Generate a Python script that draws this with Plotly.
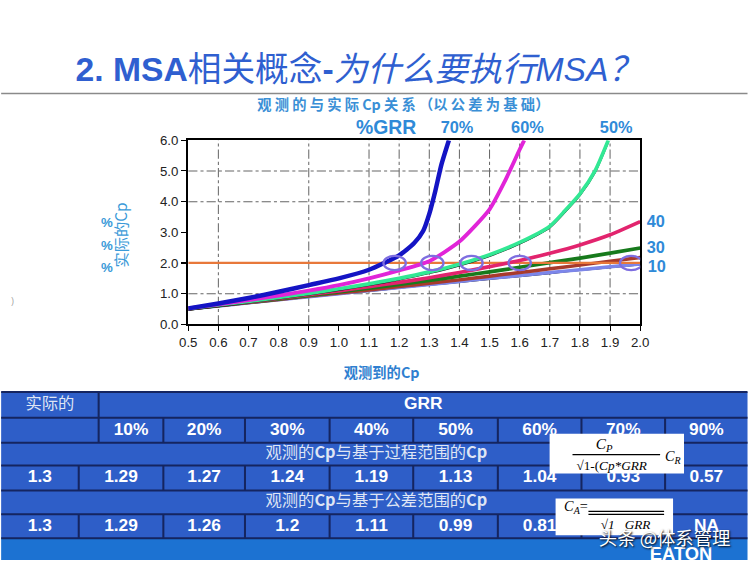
import plotly.graph_objects as go

# ---------------- data ----------------
x_std = [0.5, 0.6, 0.7, 0.8, 0.9, 1.0, 1.1, 1.2, 1.3, 1.4, 1.5, 1.6, 1.7, 1.8, 1.9, 2.0]
cp_10 = [0.50, 0.60, 0.70, 0.80, 0.90, 1.00, 1.10, 1.20, 1.30, 1.40, 1.50, 1.59, 1.69, 1.78, 1.88, 1.97]
cp_10_ref = [0.50, 0.59, 0.69, 0.79, 0.89, 0.99, 1.09, 1.19, 1.29, 1.38, 1.48, 1.57, 1.67, 1.77, 1.86, 1.95]
cp_20 = [0.50, 0.61, 0.71, 0.81, 0.92, 1.02, 1.12, 1.23, 1.34, 1.45, 1.57, 1.69, 1.81, 1.93, 2.06, 2.18]
cp_30 = [0.50, 0.61, 0.72, 0.83, 0.94, 1.06, 1.18, 1.30, 1.43, 1.57, 1.71, 1.86, 2.01, 2.16, 2.32, 2.49]
cp_40 = [0.51, 0.62, 0.73, 0.85, 0.97, 1.09, 1.23, 1.37, 1.52, 1.69, 1.88, 2.08, 2.32, 2.59, 2.92, 3.35]
x_50 = [0.5, 0.6, 0.7, 0.8, 0.9, 1.0, 1.1, 1.2, 1.3, 1.4, 1.5, 1.6, 1.7, 1.75, 1.8, 1.85, 1.894]
cp_50 = [0.52, 0.63, 0.75, 0.88, 1.01, 1.16, 1.32, 1.50, 1.71, 1.96, 2.27, 2.67, 3.20, 3.70, 4.25, 5.00, 6.00]
x_60 = [0.5, 0.6, 0.7, 0.8, 0.9, 1.0, 1.1, 1.2, 1.3, 1.4, 1.5, 1.55, 1.6, 1.615]
cp_60 = [0.52, 0.65, 0.79, 0.94, 1.10, 1.28, 1.50, 1.76, 2.06, 2.70, 3.75, 4.65, 5.70, 6.00]
x_70 = [0.5, 0.6, 0.7, 0.8, 0.9, 1.0, 1.1, 1.15, 1.2, 1.25, 1.28, 1.3, 1.32, 1.34, 1.365]
cp_70 = [0.52, 0.68, 0.86, 1.06, 1.28, 1.50, 1.78, 2.00, 2.25, 2.65, 3.05, 3.60, 4.35, 5.20, 6.00]

target_cp = 2.0
circle_x = [1.185, 1.31, 1.44, 1.60, 1.97]
grid_x = [0.6, 0.9, 1.1, 1.2, 1.3, 1.4, 1.5, 1.6, 1.7, 1.8, 1.9]
grid_y = [1.0, 4.0, 5.0]

grr_levels = ["10%", "20%", "30%", "40%", "50%", "60%", "70%", "90%"]
actual_cp = "1.3"
cp_process = ["1.29", "1.27", "1.24", "1.19", "1.13", "1.04", "0.93", "0.57"]
cp_tolerance = ["1.29", "1.26", "1.2", "1.11", "0.99", "0.81", "", "NA"]
head_left = "实际的"
head_right = "GRR"
row_process = "观测的<b>Cp</b>与基于过程范围的<b>Cp</b>"
row_tolerance = "观测的<b>Cp</b>与基于公差范围的<b>Cp</b>"

# ---------------- style ----------------
W, H = 750, 562
LAT = "Arial, Liberation Sans, Noto Sans CJK SC, sans-serif"
CJK = "Noto Sans CJK SC, sans-serif"
SERIF = "Liberation Serif, DejaVu Serif, serif"
TITLE_BLUE = "#2f5fd0"
LIGHT_BLUE = "#2f8ad8"
CELL = "#2e5ec8"
GRID_LINE = "#152560"
BAR = "#1c72d2"

fig = go.Figure()

def curve(x, y, color, width, name):
    fig.add_trace(go.Scatter(x=x, y=y, mode="lines", name=name,
                             line=dict(color=color, width=width, shape="spline", smoothing=0.6),
                             hoverinfo="skip", xaxis="x", yaxis="y"))

curve(x_std, cp_10_ref, "#111111", 2, "10% ref")
curve(x_std, cp_10, "#7c86ea", 3.4, "10%")
curve(x_std, cp_20, "#a83a2c", 3.4, "20%")
curve(x_std, cp_30, "#177a1c", 3.6, "30%")
fig.add_trace(go.Scatter(x=[x_std[0], x_std[-1]], y=[target_cp, target_cp], mode="lines",
                         line=dict(color="#e8783a", width=2.2), hoverinfo="skip"))
curve(x_std, cp_40, "#e2246e", 3.6, "40%")
curve(x_50, [v - 0.04 for v in cp_50], "#111111", 2, "50% ref")
curve(x_50, cp_50, "#32e894", 3.6, "50%")
curve(x_60, cp_60, "#e124d8", 3.8, "60%")
curve(x_70, cp_70, "#1414c4", 4.4, "70%")

shapes = []
for gx in grid_x:
    shapes.append(dict(type="line", xref="x", yref="y", x0=gx, x1=gx, y0=0, y1=6,
                       line=dict(color="#666", width=1, dash="dashdot"), layer="between"))
for gy in grid_y:
    shapes.append(dict(type="line", xref="x", yref="y", x0=0.5, x1=2.0, y0=gy, y1=gy,
                       line=dict(color="#666", width=1, dash="dashdot"), layer="between"))
for cx in circle_x:
    shapes.append(dict(type="circle", xref="x", yref="y", xsizemode="pixel", ysizemode="pixel",
                       xanchor=cx, yanchor=target_cp, x0=-11, x1=11, y0=-7, y1=7,
                       line=dict(color="#7e6ee0", width=2.2), layer="above"))

shapes.append(dict(type="line", xref="x2", yref="y2", x0=0, x1=750, y0=93, y1=93,
                   line=dict(color="#8a8a8a", width=1.5), layer="below"))

# ---------------- table ----------------
row_y = [393, 419, 444, 467, 492, 516, 540]
col_edges = [98, 163, 245, 330, 414, 499, 583, 667, 750]
first_edge_values = 78
shapes.append(dict(type="rect", xref="x2", yref="y2", x0=0, x1=750, y0=row_y[0], y1=row_y[-1],
                   fillcolor=CELL, line=dict(width=0), layer="below"))
shapes.append(dict(type="rect", xref="x2", yref="y2", x0=0, x1=750, y0=row_y[-1], y1=H,
                   fillcolor=BAR, line=dict(width=0), layer="below"))
for ry in row_y:
    shapes.append(dict(type="line", xref="x2", yref="y2", x0=0, x1=750, y0=ry, y1=ry,
                       line=dict(color=GRID_LINE, width=2), layer="below"))
shapes.append(dict(type="line", xref="x2", yref="y2", x0=col_edges[0], x1=col_edges[0], y0=row_y[0], y1=row_y[2],
                   line=dict(color=GRID_LINE, width=2), layer="below"))
for ce in col_edges[1:-1]:
    shapes.append(dict(type="line", xref="x2", yref="y2", x0=ce, x1=ce, y0=row_y[1], y1=row_y[2],
                       line=dict(color=GRID_LINE, width=2), layer="below"))
for r0, r1 in [(row_y[3], row_y[4]), (row_y[5], row_y[6])]:
    for ce in [first_edge_values] + col_edges[1:-1]:
        shapes.append(dict(type="line", xref="x2", yref="y2", x0=ce, x1=ce, y0=r0, y1=r1,
                           line=dict(color=GRID_LINE, width=2), layer="below"))

def mid(a, b):
    return (a + b) / 2

tx, ty, tt = [], [], []
grr_centers = [mid(col_edges[i], col_edges[i + 1]) for i in range(len(col_edges) - 1)]
val_centers = [mid(first_edge_values, col_edges[1])] + grr_centers[1:]
tx.append(mid(col_edges[0], 750)); ty.append(mid(row_y[0], row_y[1])); tt.append("<b>" + head_right + "</b>")
for c, g in zip(grr_centers, grr_levels):
    tx.append(c); ty.append(mid(row_y[1], row_y[2])); tt.append("<b>" + g + "</b>")
tx.append(mid(0, first_edge_values)); ty.append(mid(row_y[3], row_y[4])); tt.append("<b>" + actual_cp + "</b>")
for c, v in zip(val_centers, cp_process):
    tx.append(c); ty.append(mid(row_y[3], row_y[4])); tt.append("<b>" + v + "</b>")
tx.append(mid(0, first_edge_values)); ty.append(mid(row_y[5], row_y[6])); tt.append("<b>" + actual_cp + "</b>")
for c, v in zip(val_centers, cp_tolerance):
    if v:
        tx.append(c); ty.append(mid(row_y[5], row_y[6])); tt.append("<b>" + v + "</b>")

fig.add_trace(go.Scatter(x=tx, y=ty, text=tt, mode="text", xaxis="x2", yaxis="y2",
                         textfont=dict(family=LAT, size=17, color="white"), hoverinfo="skip"))
fig.add_trace(go.Scatter(x=[mid(0, col_edges[0]), 377, 377],
                         y=[mid(row_y[0], row_y[1]), mid(row_y[2], row_y[3]), mid(row_y[4], row_y[5])],
                         text=[head_left, row_process, row_tolerance], mode="text", xaxis="x2", yaxis="y2",
                         textfont=dict(family=CJK, size=16, color="#dfe5f4"), hoverinfo="skip"))

# pasted formula images
shapes.append(dict(type="rect", xref="x2", yref="y2", x0=551, x1=686, y0=435, y1=475,
                   fillcolor="white", line=dict(width=0), layer="above"))
shapes.append(dict(type="rect", xref="x2", yref="y2", x0=557, x1=675, y0=500, y1=537,
                   fillcolor="white", line=dict(width=0), layer="above"))
shapes.append(dict(type="line", xref="x2", yref="y2", x0=574, x1=662, y0=456, y1=456,
                   line=dict(color="black", width=1.3), layer="above"))
shapes.append(dict(type="line", xref="x2", yref="y2", x0=590, x1=666, y0=513, y1=513,
                   line=dict(color="black", width=1.2), layer="above"))
shapes.append(dict(type="line", xref="x2", yref="y2", x0=590, x1=666, y0=516, y1=516,
                   line=dict(color="black", width=1.2), layer="above"))

ann = []
def A(x, y, text, size, color, family=LAT, **kw):
    d = dict(x=x, y=y, xref="x2", yref="y2", text=text, showarrow=False,
             font=dict(size=size, color=color, family=family), xanchor="center", yanchor="middle")
    d.update(kw)
    ann.append(d)

A(360, 68, "<b>2. MSA</b>相关概念<b>-</b><i>为什么要执行MSA？</i>", 33, TITLE_BLUE)
A(404, 104, "<b>观 测 的 与 实 际 Cp 关 系 （以 公 差 为 基 础）</b>", 14, "#3a8fd6", CJK)
A(387, 127, "<b>%GRR</b>", 19, LIGHT_BLUE)
A(458, 127, "<b>70%</b>", 16, LIGHT_BLUE)
A(529, 127, "<b>60%</b>", 16, LIGHT_BLUE)
A(618, 127, "<b>50%</b>", 16, LIGHT_BLUE)
A(646, 221, "<b>40</b>", 16, LIGHT_BLUE, xanchor="left")
A(646, 248, "<b>30</b>", 16, LIGHT_BLUE, xanchor="left")
A(648, 267, "<b>10</b>", 16, LIGHT_BLUE, xanchor="left")
A(120, 235, "实际的Cp", 15, "#3a9ad8", CJK, textangle=-90)
for py in [222, 246, 268]:
    A(107, py, "<b>%</b>", 13, "#3a9ad8")
A(12, 302, ")", 8, "#999")
A(382, 373, "<b>观测到的Cp</b>", 14, "#2f7fd0", CJK)

A(606, 446, "<i>C<sub>P</sub></i>", 15, "black", SERIF)
A(613, 467, "√1-(<i>Cp*GRR</i>", 13, "black", SERIF)
A(675, 459, "<i>C<sub>R</sub></i>", 14, "black", SERIF)
A(577, 509, "<i>C<sub>A</sub></i>=", 14, "black", SERIF)
A(628, 527, "√<i>1   GRR</i>", 13, "black", SERIF)

A(683, 556, "<b>EATON</b>", 18, "white", LAT)
ann.append(dict(x=666, y=538, xref="x2", yref="y2", text="头条 @体系管理", showarrow=False,
                font=dict(size=18, color="white", family=CJK, shadow="1px 1px 2px #000"),
                xanchor="center", yanchor="middle"))

fig.update_layout(
    width=W, height=H, margin=dict(l=0, r=0, t=0, b=0),
    paper_bgcolor="white", plot_bgcolor="rgba(0,0,0,0)", showlegend=False,
    shapes=shapes, annotations=ann,
    xaxis=dict(domain=[188 / W, 642 / W], range=[0.5, 2.0], dtick=0.1, tick0=0.5, tickformat=".1f",
               showgrid=False, zeroline=False, showline=True, mirror=True, linecolor="black", linewidth=2,
               ticks="outside", ticklen=5, tickcolor="black",
               tickfont=dict(family=LAT, size=13, color="#222"), anchor="y", fixedrange=True),
    yaxis=dict(domain=[1 - 325 / H, 1 - 140 / H], range=[0, 6], dtick=1, tickformat=".1f",
               showgrid=False, zeroline=False, showline=True, mirror=True, linecolor="black", linewidth=2,
               ticks="outside", ticklen=5, tickcolor="black",
               tickfont=dict(family=LAT, size=13, color="#222"), anchor="x", fixedrange=True),
    xaxis2=dict(domain=[0, 1], range=[0, W], visible=False, anchor="y2", fixedrange=True),
    yaxis2=dict(domain=[0, 1], range=[H, 0], visible=False, anchor="x2", fixedrange=True),
)

post = ("document.documentElement.style.overflow='hidden';"
        "document.body.style.margin='0';document.body.style.overflow='hidden';"
        "document.body.style.background='#ffffff';"
        "var d=document.getElementById('{plot_id}');d.style.transformOrigin='0 0';"
        "d.style.transform='translate(-8.1px,-6.1px) scale(1.02,1.022)';")
fig.write_html("out.html", config={"displayModeBar": False}, post_script=post)
